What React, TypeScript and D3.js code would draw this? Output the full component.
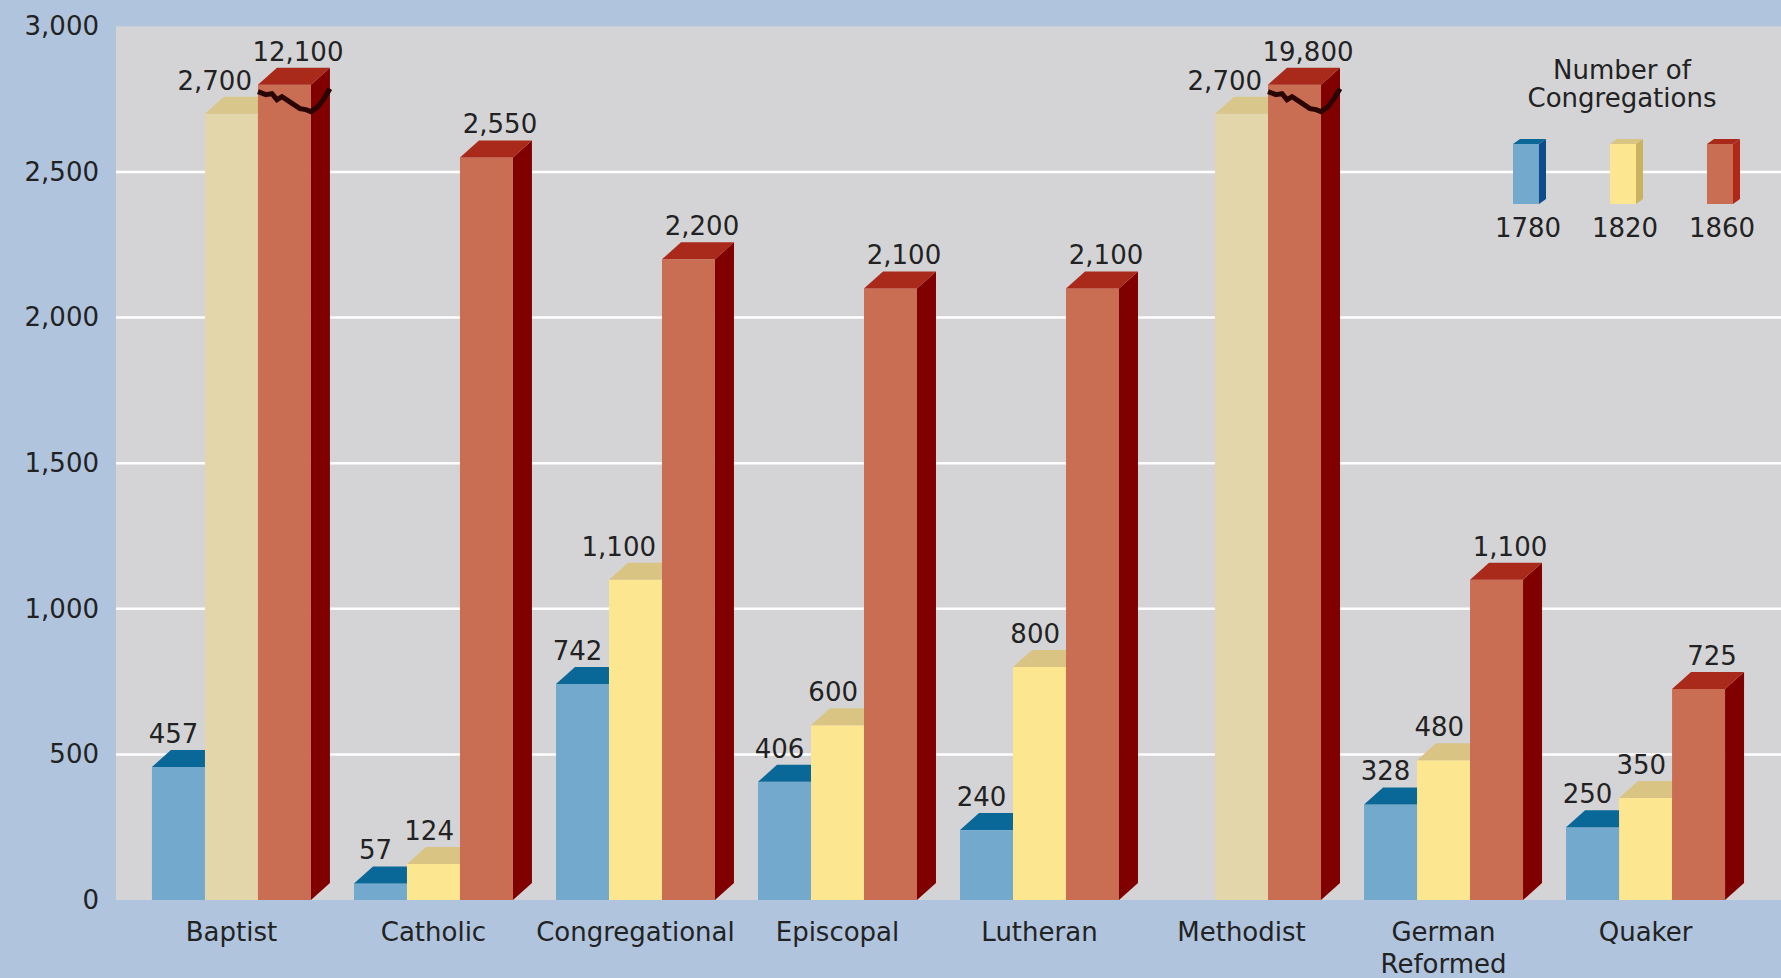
import { useRef, useEffect } from 'react'
import * as d3 from 'd3'

const categories = ['Baptist', 'Catholic', 'Congregational', 'Episcopal', 'Lutheran', 'Methodist', 'German Reformed', 'Quaker']
const years = ['1780', '1820', '1860']
const values1780: (number | null)[] = [457, 57, 742, 406, 240, null, 328, 250]
const values1820: (number | null)[] = [2700, 124, 1100, 600, 800, 2700, 480, 350]
const values1860: (number | null)[] = [12100, 2550, 2200, 2100, 2100, 19800, 1100, 725]
// 1820 bars that are drawn in the paler beige in the original
const faded1820 = ['Baptist', 'Methodist']
const yTicks = [0, 500, 1000, 1500, 2000, 2500, 3000]
// bars above this are cut off with a break mark
const breakAt = 2800

const palette: Record<string, { front: string; top: string; side: string; legendSide: string }> = {
	'1780': { front: '#72a9cd', top: '#0a6898', side: '#0b4d8a', legendSide: '#0b4d8a' },
	'1820': { front: '#fde690', top: '#d9c484', side: '#c4ac5c', legendSide: '#c9b260' },
	'1860': { front: '#c96d53', top: '#a9291b', side: '#800000', legendSide: '#b02818' },
}
const fadedColors = { front: '#e3d6aa', top: '#d8c68a' }

const font = "'DejaVu Sans', sans-serif"
const textColor = '#222222'

const App = () => {
	const svgRef = useRef<SVGSVGElement | null>(null)

	useEffect(() => {
		if (!svgRef.current) return

		const width = 1781
		const height = 978
		const plotLeft = 116
		const depth = { dx: 19, dy: -17 }

		d3.select(svgRef.current).selectAll('*').remove()

		const svg = d3.select(svgRef.current).attr('width', width).attr('height', height)

		svg.append('rect').attr('width', width).attr('height', height).attr('fill', '#b0c4de')

		const y = d3.scaleLinear().domain([0, 3000]).range([900, 26.4])

		svg
			.append('rect')
			.attr('x', plotLeft)
			.attr('y', y(3000))
			.attr('width', width - plotLeft)
			.attr('height', y(0) - y(3000))
			.attr('fill', '#d4d4d6')

		// gridlines
		svg
			.append('g')
			.selectAll('line')
			.data(yTicks.filter((d) => d > 0 && d < 3000))
			.enter()
			.append('line')
			.attr('x1', plotLeft)
			.attr('x2', width)
			.attr('y1', (d) => y(d))
			.attr('y2', (d) => y(d))
			.attr('stroke', '#ffffff')
			.attr('stroke-width', 2.5)

		// Y Axis
		const yAxis = svg
			.append('g')
			.attr('transform', 'translate(99,0)')
			.call(d3.axisLeft(y).tickValues(yTicks).tickSize(0).tickPadding(0).tickFormat(d3.format(',')))
		yAxis.select('.domain').remove()
		yAxis.selectAll('text').attr('font-size', 26).attr('font-family', font).attr('fill', textColor)

		const x0 = d3
			.scaleBand()
			.domain(categories)
			.range([plotLeft, 1761])
			.paddingInner(0.213)
			.paddingOuter(0.178)

		const x1 = d3.scaleBand().domain(years).range([0, x0.bandwidth()])
		const bw = x1.bandwidth()

		// category labels
		categories.forEach((c) => {
			const t = svg
				.append('text')
				.attr('x', x0(c)! + x0.bandwidth() / 2)
				.attr('y', 941)
				.attr('text-anchor', 'middle')
				.attr('font-size', 26)
				.attr('font-family', font)
				.attr('fill', textColor)
			c.split(' ').forEach((word, i) => {
				t.append('tspan')
					.attr('x', x0(c)! + x0.bandwidth() / 2)
					.attr('dy', i === 0 ? 0 : 32)
					.text(word)
			})
		})

		const series = [values1780, values1820, values1860]
		const breakPts: [number, number][] = [
			[0, 7], [8, 10], [14, 9], [19, 15], [24, 12], [30, 16], [36, 20], [42, 24],
			[48, 25], [53, 27], [60, 22], [66, 14], [72, 4],
		]

		categories.forEach((c, i) => {
			const g = svg.append('g').attr('transform', `translate(${x0(c)},0)`)
			years.forEach((yr, j) => {
				const v = series[j][i]
				if (v == null) return
				const shown = Math.min(v, breakAt)
				const bx = x1(yr)!
				const yt = y(shown)
				const yb = y(0)
				const col = palette[yr]
				const faded = yr === '1820' && faded1820.includes(c)
				const front = faded ? fadedColors.front : col.front
				const top = faded ? fadedColors.top : col.top

				g.append('polygon')
					.attr('points', [[bx + bw, yt], [bx + bw + depth.dx, yt + depth.dy], [bx + bw + depth.dx, yb + depth.dy], [bx + bw, yb]].join(' '))
					.attr('fill', col.side)
				g.append('rect').attr('x', bx).attr('y', yt).attr('width', bw).attr('height', yb - yt).attr('fill', front)
				g.append('polygon')
					.attr('points', [[bx, yt], [bx + depth.dx, yt + depth.dy], [bx + bw + depth.dx, yt + depth.dy], [bx + bw, yt]].join(' '))
					.attr('fill', top)

				if (v > breakAt) {
					g.append('path')
						.attr('d', d3.line()(breakPts.map(([px, py]) => [bx + px, yt + py])))
						.attr('fill', 'none')
						.attr('stroke', '#2a0503')
						.attr('stroke-width', 5)
						.attr('stroke-linejoin', 'miter')
				}

				const label = g
					.append('text')
					.attr('y', yt + depth.dy - 7)
					.attr('text-anchor', 'middle')
					.attr('font-size', 26)
					.attr('font-family', font)
					.attr('fill', textColor)
					.text(d3.format(',')(v))
				let cx = bx + bw / 2
				if (yr === '1780') cx -= 5
				if (yr === '1860') cx += depth.dx / 2 + 4
				if (yr === '1820') {
					const w = (label.node() as SVGTextElement).getComputedTextLength()
					cx = Math.min(cx, bx + bw - 6 - w / 2)
				}
				label.attr('x', cx)
			})
		})

		// legend
		const legend = svg.append('g')
		const lx = d3.scalePoint().domain(years).range([1513, 1707])
		legend
			.append('text')
			.attr('x', 1622)
			.attr('y', 79)
			.attr('text-anchor', 'middle')
			.attr('font-size', 26)
			.attr('font-family', font)
			.attr('fill', textColor)
			.text('Number of')
		legend
			.append('text')
			.attr('x', 1622)
			.attr('y', 107)
			.attr('text-anchor', 'middle')
			.attr('font-size', 26)
			.attr('font-family', font)
			.attr('fill', textColor)
			.text('Congregations')
		years.forEach((yr) => {
			const sx = lx(yr)!
			const col = palette[yr]
			const sw = 26
			const st = 144
			const sb = 204
			legend
				.append('polygon')
				.attr('points', [[sx + sw, st], [sx + sw + 7, st - 5], [sx + sw + 7, sb - 5], [sx + sw, sb]].join(' '))
				.attr('fill', col.legendSide)
			legend.append('rect').attr('x', sx).attr('y', st).attr('width', sw).attr('height', sb - st).attr('fill', col.front)
			legend
				.append('polygon')
				.attr('points', [[sx, st], [sx + 7, st - 5], [sx + sw + 7, st - 5], [sx + sw, st]].join(' '))
				.attr('fill', col.top)
			legend
				.append('text')
				.attr('x', sx + 15)
				.attr('y', 237)
				.attr('text-anchor', 'middle')
				.attr('font-size', 26)
				.attr('font-family', font)
				.attr('fill', textColor)
				.text(yr)
		})
	}, [])

	return (
		<div style={{ position: 'absolute', left: 0, top: 0 }}>
			<svg ref={svgRef} style={{ display: 'block' }}></svg>
		</div>
	)
}

export default App
